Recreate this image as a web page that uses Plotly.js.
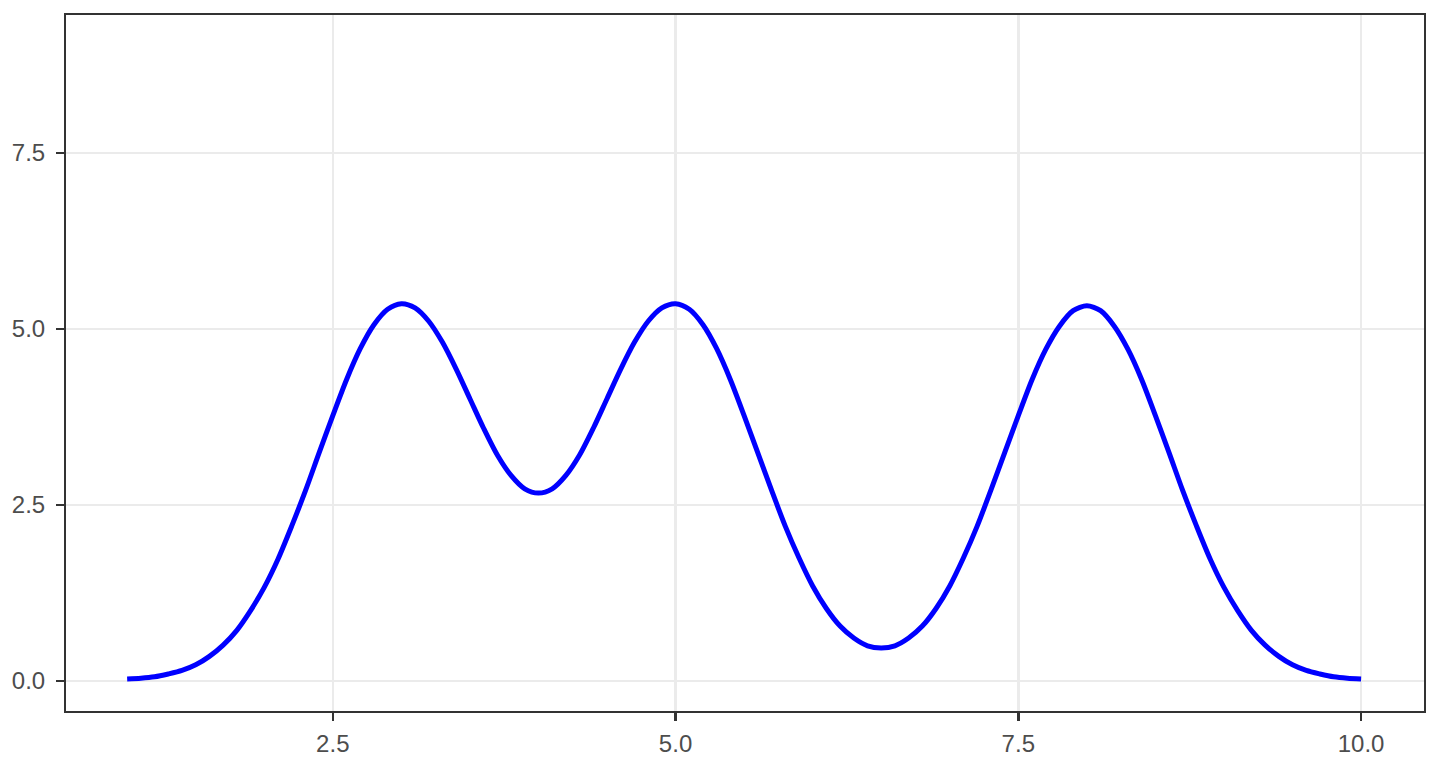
<!DOCTYPE html>
<html>
<head>
<meta charset="utf-8">
<script src="https://cdn.plot.ly/plotly-3.0.1.min.js"></script>
<style>html,body{margin:0;padding:0;background:#fff;}#chart{width:1440px;height:768px;}</style>
</head>
<body>
<div id="chart"></div>
<script>
const xValues = [1.0,1.1,1.2,1.3,1.4,1.5,1.6,1.7,1.8,1.9,2.0,2.1,2.2,2.3,2.4,2.5,2.6,2.7,2.8,2.9,3.0,3.1,3.2,3.3,3.4,3.5,3.6,3.7,3.8,3.9,4.0,4.1,4.2,4.3,4.4,4.5,4.6,4.7,4.8,4.9,5.0,5.1,5.2,5.3,5.4,5.5,5.6,5.7,5.8,5.9,6.0,6.1,6.2,6.3,6.4,6.5,6.6,6.7,6.8,6.9,7.0,7.1,7.2,7.3,7.4,7.5,7.6,7.7,7.8,7.9,8.0,8.1,8.2,8.3,8.4,8.5,8.6,8.7,8.8,8.9,9.0,9.1,9.2,9.3,9.4,9.5,9.6,9.7,9.8,9.9,10.0];
const yValues = [0.03,0.04,0.06,0.10,0.15,0.23,0.35,0.51,0.72,1.00,1.33,1.73,2.20,2.70,3.24,3.77,4.28,4.72,5.06,5.28,5.36,5.30,5.11,4.81,4.43,4.01,3.59,3.21,2.92,2.73,2.67,2.73,2.92,3.21,3.59,4.01,4.43,4.81,5.11,5.30,5.36,5.28,5.06,4.72,4.28,3.77,3.24,2.71,2.20,1.75,1.35,1.03,0.78,0.61,0.50,0.47,0.50,0.61,0.78,1.03,1.35,1.75,2.20,2.71,3.24,3.77,4.28,4.71,5.04,5.26,5.33,5.26,5.04,4.71,4.28,3.77,3.24,2.70,2.20,1.73,1.33,1.00,0.72,0.51,0.35,0.23,0.15,0.10,0.06,0.04,0.03];
const xTicks = [2.5,5.0,7.5,10.0];
const xTickText = ['2.5','5.0','7.5','10.0'];
const yTicks = [0.0,2.5,5.0,7.5];
const yTickText = ['0.0','2.5','5.0','7.5'];

const trace = {
  x: xValues, y: yValues, type: 'scatter', mode: 'lines',
  line: {color: '#0000FF', width: 5, shape: 'spline', smoothing: 0.8},
  hoverinfo: 'skip'
};
const axisCommon = {
  showgrid: true, gridcolor: '#EBEBEB', gridwidth: 2.5,
  zeroline: false, showline: true, mirror: true, linecolor: '#333333', linewidth: 2,
  ticks: 'outside', ticklen: 8, tickwidth: 2.5, tickcolor: '#333333',
  tickfont: {family: 'Liberation Sans, Arial, sans-serif', size: 24, color: '#4D4D4D'},
  tickmode: 'array'
};
const layout = {
  width: 1440, height: 768,
  paper_bgcolor: '#FFFFFF', plot_bgcolor: '#FFFFFF',
  margin: {l: 66, r: 16, t: 15, b: 57},
  showlegend: false,
  xaxis: Object.assign({}, axisCommon, {range: [0.554, 10.459], tickvals: xTicks, ticktext: xTickText, ticklabelstandoff: 2}),
  yaxis: Object.assign({}, axisCommon, {range: [-0.426, 9.46], tickvals: yTicks, ticktext: yTickText, ticklabelstandoff: 6})
};
Plotly.newPlot('chart', [trace], layout, {staticPlot: true, displayModeBar: false});
</script>
</body>
</html>
